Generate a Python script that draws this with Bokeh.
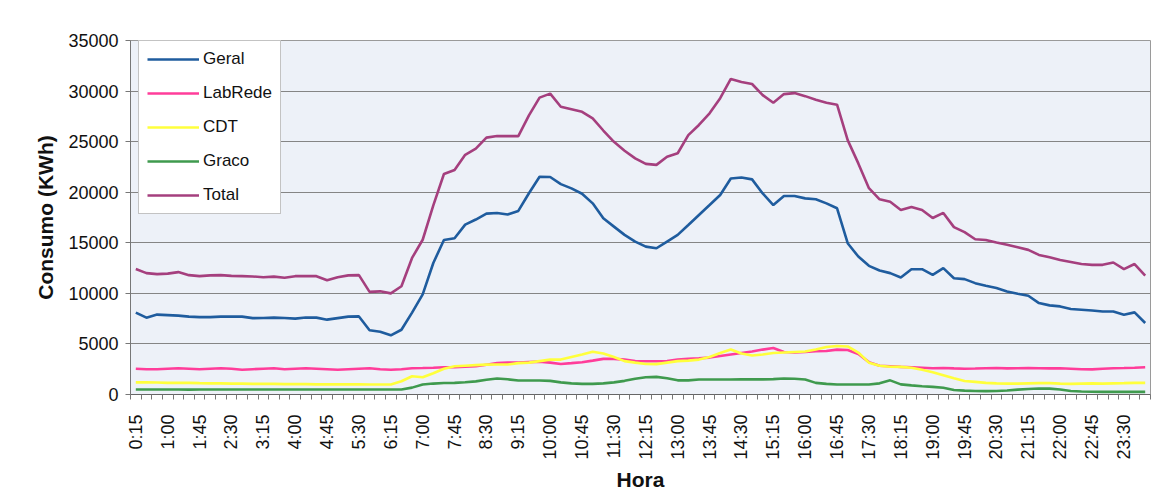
import math
from bokeh.plotting import figure
from bokeh.models import FixedTicker, Legend, LegendItem, NumeralTickFormatter
from bokeh.embed import file_html
from bokeh.resources import INLINE

horas = ["0:15", "0:30", "0:45", "1:00", "1:15", "1:30", "1:45", "2:00", "2:15", "2:30", "2:45", "3:00",
         "3:15", "3:30", "3:45", "4:00", "4:15", "4:30", "4:45", "5:00", "5:15", "5:30", "5:45", "6:00",
         "6:15", "6:30", "6:45", "7:00", "7:15", "7:30", "7:45", "8:00", "8:15", "8:30", "8:45", "9:00",
         "9:15", "9:30", "9:45", "10:00", "10:15", "10:30", "10:45", "11:00", "11:15", "11:30", "11:45", "12:00",
         "12:15", "12:30", "12:45", "13:00", "13:15", "13:30", "13:45", "14:00", "14:15", "14:30", "14:45", "15:00",
         "15:15", "15:30", "15:45", "16:00", "16:15", "16:30", "16:45", "17:00", "17:15", "17:30", "17:45", "18:00",
         "18:15", "18:30", "18:45", "19:00", "19:15", "19:30", "19:45", "20:00", "20:15", "20:30", "20:45", "21:00",
         "21:15", "21:30", "21:45", "22:00", "22:15", "22:30", "22:45", "23:00", "23:15", "23:30", "23:45", "24:00"]

geral = [8100, 7600, 7900, 7850, 7800, 7700, 7650, 7650, 7700, 7700,
         7700, 7550, 7560, 7600, 7560, 7500, 7620, 7600, 7400, 7550,
         7700, 7720, 6350, 6200, 5850, 6400, 8100, 9900, 13000, 15280,
         15450, 16800, 17300, 17880, 17950, 17800, 18150, 19900, 21530, 21500,
         20800, 20380, 19850, 18900, 17420, 16600, 15780, 15120, 14620, 14460,
         15120, 15780, 16760, 17750, 18730, 19720, 21360, 21460, 21270, 19880,
         18730, 19620, 19620, 19390, 19300, 18900, 18410, 14960, 13640, 12720,
         12260, 12000, 11570, 12390, 12390, 11830, 12490, 11500, 11410, 11010,
         10750, 10520, 10190, 9960, 9760, 9040, 8810, 8710, 8450, 8380,
         8310, 8210, 8210, 7890, 8120, 7070]

labrede = [2550, 2500, 2500, 2550, 2600, 2550, 2500, 2550, 2600, 2550,
           2450, 2500, 2550, 2600, 2500, 2550, 2600, 2550, 2500, 2450,
           2500, 2550, 2600, 2500, 2450, 2500, 2600, 2620, 2650, 2700,
           2700, 2750, 2800, 2950, 3100, 3150, 3150, 3200, 3250, 3150,
           3020, 3100, 3190, 3350, 3520, 3520, 3450, 3300, 3290, 3290,
           3300, 3450, 3520, 3580, 3650, 3800, 3950, 4100, 4250, 4440,
           4600, 4200, 4150, 4200, 4270, 4300, 4440, 4400, 4000, 3200,
           2850, 2800, 2730, 2700, 2650, 2600, 2620, 2580, 2550, 2570,
           2600, 2620, 2580, 2600, 2620, 2600, 2580, 2600, 2550, 2500,
           2480, 2550, 2600, 2620, 2650, 2700]

cdt = [1200, 1200, 1180, 1150, 1150, 1150, 1120, 1100, 1100, 1080,
       1080, 1050, 1050, 1050, 1030, 1030, 1030, 1000, 1000, 1000,
       1000, 1000, 990, 990, 990, 1310, 1800, 1700, 2100, 2550,
       2800, 2850, 2900, 2950, 2960, 2960, 3100, 3150, 3300, 3450,
       3450, 3700, 3950, 4220, 4050, 3700, 3300, 3150, 3020, 3000,
       3150, 3300, 3350, 3450, 3700, 4100, 4440, 4050, 3850, 3950,
       4100, 4150, 4200, 4250, 4450, 4700, 4800, 4750, 4150, 3150,
       2850, 2750, 2730, 2650, 2450, 2200, 1900, 1600, 1330, 1250,
       1150, 1100, 1080, 1080, 1100, 1120, 1120, 1080, 1050, 1080,
       1100, 1080, 1100, 1120, 1150, 1150]

graco = [500, 490, 490, 490, 490, 480, 490, 490, 490, 490,
         490, 490, 490, 490, 490, 490, 490, 490, 490, 490,
         490, 490, 490, 490, 490, 500, 680, 990, 1080, 1130,
         1150, 1210, 1300, 1450, 1580, 1500, 1380, 1380, 1380, 1350,
         1200, 1100, 1050, 1050, 1100, 1200, 1350, 1550, 1700, 1740,
         1600, 1400, 1400, 1480, 1480, 1480, 1480, 1500, 1500, 1500,
         1520, 1580, 1550, 1480, 1150, 1050, 990, 990, 990, 990,
         1100, 1400, 1000, 900, 820, 750, 660, 450, 380, 340,
         330, 350, 400, 480, 550, 590, 580, 500, 350, 300,
         270, 260, 260, 260, 260, 260]

total = [12400, 12000, 11900, 11950, 12100, 11800, 11700, 11780, 11800, 11730,
         11700, 11670, 11600, 11650, 11550, 11700, 11720, 11700, 11300, 11600,
         11780, 11800, 10150, 10200, 10000, 10700, 13500, 15300, 18700, 21800,
         22200, 23700, 24300, 25400, 25550, 25550, 25550, 27600, 29350, 29750,
         28450, 28200, 27950, 27300, 26100, 24980, 24100, 23350, 22800, 22700,
         23500, 23850, 25650, 26650, 27800, 29300, 31200, 30900, 30700, 29600,
         28850, 29700, 29800, 29500, 29150, 28850, 28650, 25150, 22850, 20400,
         19300, 19050, 18250, 18550, 18250, 17450, 17950, 16550, 16050, 15350,
         15280, 15020, 14800, 14550, 14300, 13800, 13580, 13300, 13100, 12900,
         12820, 12820, 13050, 12400, 12900, 11750]

series_names = ["Geral", "LabRede", "CDT", "Graco", "Total"]
series_values = [geral, labrede, cdt, graco, total]
series_colors = ["#1f5c9e", "#ff3d9a", "#ffff3c", "#3f9a4e", "#a53f7e"]

y_ticks = [0, 5000, 10000, 15000, 20000, 25000, 30000, 35000]

FONT = "Liberation Sans"

x = list(range(len(horas)))

p = figure(width=1165, height=493, output_backend="svg", toolbar_location=None,
           x_range=(-0.5, len(horas) - 0.5), y_range=(0, 35000),
           min_border_left=130, min_border_right=15, min_border_top=40, min_border_bottom=98)

p.background_fill_color = "#edf1f8"
p.border_fill_color = "white"
p.outline_line_color = "#9a9a9a"

items = []
for name, vals, col in zip(series_names, series_values, series_colors):
    r = p.line(x, vals, line_color=col, line_width=2.6)
    items.append(LegendItem(label=name, renderers=[r]))

# x axis
label_idx = list(range(0, len(horas), 3))
p.xaxis.ticker = FixedTicker(ticks=label_idx,
                             minor_ticks=[i - 0.5 for i in range(len(horas) + 1)])
p.xaxis.major_label_overrides = {i: horas[i] for i in label_idx}
p.xaxis.major_label_orientation = math.pi / 2
p.xaxis.major_tick_line_color = None
p.xaxis.minor_tick_out = 5
p.xaxis.minor_tick_in = 0
p.xaxis.minor_tick_line_color = "#777777"
p.xaxis.axis_line_color = "#666666"
p.xaxis.major_label_standoff = 14
p.xaxis.axis_label = "Hora"
p.xaxis.axis_label_standoff = 5

# y axis
p.yaxis.ticker = FixedTicker(ticks=y_ticks)
p.yaxis.formatter = NumeralTickFormatter(format="0")
p.yaxis.minor_tick_line_color = None
p.yaxis.major_tick_out = 5
p.yaxis.major_tick_in = 0
p.yaxis.major_tick_line_color = "#777777"
p.yaxis.axis_line_color = "#777777"
p.yaxis.major_label_standoff = 7
p.yaxis.axis_label = "Consumo (KWh)"
p.yaxis.axis_label_standoff = 8

for ax in (p.xaxis, p.yaxis):
    ax.major_label_text_font = FONT
    ax.major_label_text_font_size = "18px"
    ax.major_label_text_color = "#111111"
    ax.axis_label_text_font = FONT
    ax.axis_label_text_font_size = "21px"
    ax.axis_label_text_font_style = "bold"
    ax.axis_label_text_color = "#111111"

p.xgrid.grid_line_color = None
p.ygrid.grid_line_color = "#858585"
p.ygrid.grid_line_width = 1

legend = Legend(items=items, location=(8, 180))
legend.label_text_font = FONT
legend.label_text_font_size = "17px"
legend.label_text_color = "#111111"
legend.glyph_width = 52
legend.glyph_height = 20
legend.label_height = 20
legend.spacing = 14
legend.padding = 8
legend.margin = 0
legend.label_standoff = 4
legend.border_line_color = "#888888"
legend.border_line_width = 1
legend.background_fill_color = "white"
legend.background_fill_alpha = 1.0
p.add_layout(legend)

open("out.html", "w").write(file_html(p, INLINE))
